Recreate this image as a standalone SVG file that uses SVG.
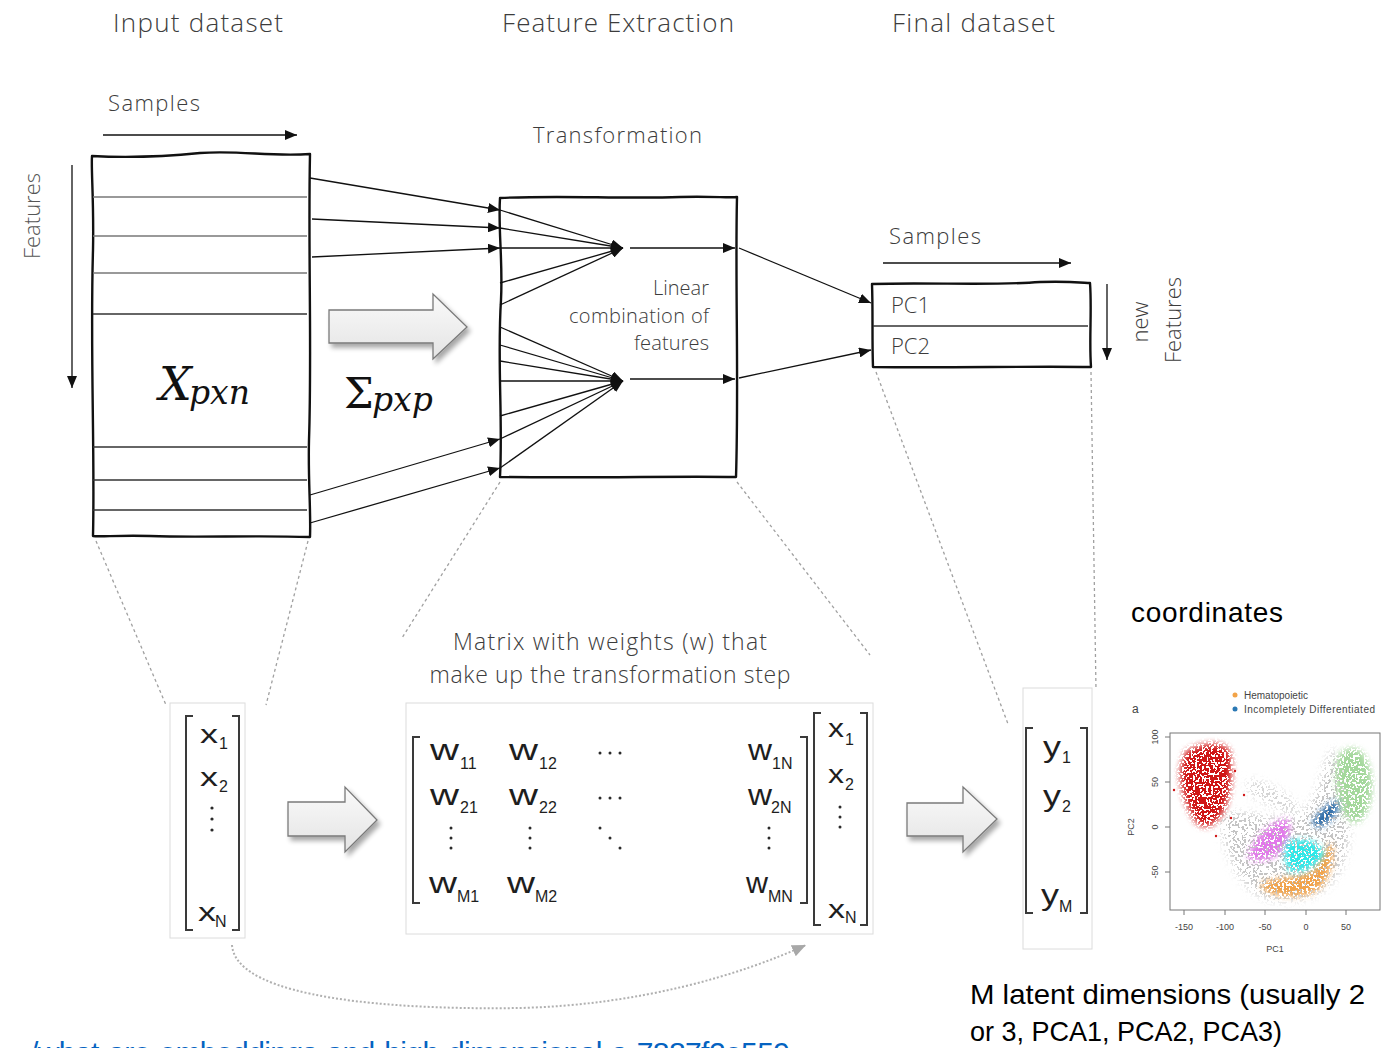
<svg xmlns="http://www.w3.org/2000/svg" width="1390" height="1048" viewBox="0 0 1390 1048">
  <style>
    .hdr { font-family: "Open Sans", "Liberation Sans", sans-serif; font-weight: 300; font-size: 26px; fill: #3c3c3c; }
    .lbl { font-family: "Open Sans", "Liberation Sans", sans-serif; font-weight: 300; font-size: 22px; fill: #3c3c3c; }
    .small { font-family: "Open Sans", "Liberation Sans", sans-serif; font-weight: 300; font-size: 20px; fill: #3c3c3c; }
    .math { font-family: "DejaVu Serif", "Liberation Serif", serif; font-style: italic; fill: #111; }
    .mv { font-family: "Liberation Sans", Arial, sans-serif; fill: #1e1e1e; }
    .sub { font-family: "Liberation Sans", Arial, sans-serif; font-size: 16px; fill: #1e1e1e; }
    .note { font-family: "Liberation Sans", Arial, sans-serif; font-size: 28px; fill: #000; }
    .axis { font-family: "Liberation Sans", Arial, sans-serif; font-size: 9px; fill: #444; }
    .box { fill: #fff; stroke: #111; stroke-width: 2.4; stroke-linejoin: round; }
    .row { stroke: #777; stroke-width: 1.6; }
    .rowd { stroke: #333; stroke-width: 1.6; }
    .conn { stroke: #111; stroke-width: 1.3; fill: none; }
    .dash { stroke: #a0a0a0; stroke-width: 1.3; stroke-dasharray: 3 3; fill: none; }
    .frame { fill: #fff; stroke: #dcdcdc; stroke-width: 1; }
    .brk { fill: none; stroke: #3a3a3a; stroke-width: 2; }
    .block { fill: url(#blockFill); stroke: #7a7a7a; stroke-width: 1.3; stroke-linejoin: miter; }
    .dot { fill: #2a2a2a; }
  </style>
  <defs>
    <marker id="ah" viewBox="0 0 12 10" refX="12" refY="5" markerWidth="12" markerHeight="10" orient="auto" markerUnits="userSpaceOnUse">
      <path d="M0 0 L12 5 L0 10 Z" fill="#111"/>
    </marker>
    <marker id="ahGray" viewBox="0 0 14 12" refX="14" refY="6" markerWidth="14" markerHeight="12" orient="auto" markerUnits="userSpaceOnUse">
      <path d="M0 0 L14 6 L0 12 Z" fill="#a8a8a8"/>
    </marker>
    <linearGradient id="blockFill" x1="0" y1="0" x2="0" y2="1">
      <stop offset="0" stop-color="#fafafa"/>
      <stop offset="1" stop-color="#e4e4e4"/>
    </linearGradient>
    <filter id="shadow" x="-20%" y="-20%" width="150%" height="160%">
      <feGaussianBlur in="SourceAlpha" stdDeviation="2.5"/>
      <feOffset dx="3" dy="4" result="off"/>
      <feComponentTransfer in="off" result="soft"><feFuncA type="linear" slope="0.35"/></feComponentTransfer>
      <feMerge><feMergeNode in="soft"/><feMergeNode in="SourceGraphic"/></feMerge>
    </filter>
    <!-- speckle fill for the scatter clusters, soft at the edges -->
    <filter id="speckDense" x="-25%" y="-25%" width="150%" height="150%">
      <feTurbulence type="fractalNoise" baseFrequency="0.45" numOctaves="1" seed="4" result="n"/>
      <feColorMatrix in="n" type="matrix" values="0 0 0 0 0  0 0 0 0 0  0 0 0 0 0  1.8 0 0 0 -0.32" result="m"/>
      <feComponentTransfer in="m" result="mask"><feFuncA type="discrete" tableValues="0 1"/></feComponentTransfer>
      <feGaussianBlur in="SourceGraphic" stdDeviation="3" result="soft"/>
      <feComposite in="soft" in2="mask" operator="in" result="spk"/>
      <feGaussianBlur in="spk" stdDeviation="0.35"/>
    </filter>
    <filter id="speckSparse" x="-25%" y="-25%" width="150%" height="150%">
      <feTurbulence type="fractalNoise" baseFrequency="0.45" numOctaves="1" seed="9" result="n"/>
      <feColorMatrix in="n" type="matrix" values="0 0 0 0 0  0 0 0 0 0  0 0 0 0 0  1.8 0 0 0 -0.5" result="m"/>
      <feComponentTransfer in="m" result="mask"><feFuncA type="discrete" tableValues="0 1"/></feComponentTransfer>
      <feGaussianBlur in="SourceGraphic" stdDeviation="5" result="soft"/>
      <feComposite in="soft" in2="mask" operator="in" result="spk"/>
      <feGaussianBlur in="spk" stdDeviation="0.35"/>
    </filter>
  </defs>

  <rect width="1390" height="1048" fill="#fff"/>

  <!-- section headings -->
  <g id="headings">
    <text class="hdr" x="113" y="32" textLength="170">Input dataset</text>
    <text class="hdr" x="502" y="32" textLength="232">Feature Extraction</text>
    <text class="hdr" x="892" y="32" textLength="163">Final dataset</text>
  </g>

  <!-- input data matrix -->
  <g id="input-dataset">
    <text class="lbl" x="108" y="111" textLength="92">Samples</text>
    <text class="lbl" transform="translate(40,216) rotate(-90)" text-anchor="middle" style="fill:#555">Features</text>
    <path class="box" d="M92 156 C130 158 160 157 200 153 C240 150 270 157 310 154 C308 250 312 350 309 440 C308 480 311 510 310 537 C250 535 200 538 150 536 C120 535 100 537 93 536 C95 450 90 350 93 250 C94 200 91 170 92 156 Z"/>
    <line class="row" x1="93" y1="197" x2="307" y2="197"/>
    <line class="row" x1="93" y1="236" x2="307" y2="236"/>
    <line class="row" x1="93" y1="273" x2="307" y2="273"/>
    <line class="rowd" x1="93" y1="314" x2="307" y2="314"/>
    <line class="rowd" x1="93" y1="447" x2="307" y2="447"/>
    <line class="rowd" x1="93" y1="480" x2="307" y2="480"/>
    <line class="rowd" x1="93" y1="510" x2="307" y2="510"/>
    <text class="math" x="159" y="400" font-size="46">X</text>
    <text class="math" x="189" y="404" font-size="33">pxn</text>
  </g>

  <!-- covariance arrow -->
  <g id="sigma">
    <polygon class="block" filter="url(#shadow)" points="329,310 433,310 433,294 467,327 433,359 433,343 329,343"/>
    <text class="math" x="344" y="408" font-size="42" style="font-style:normal">Σ</text>
    <text class="math" x="372" y="411" font-size="33">pxp</text>
  </g>

  <!-- transformation block -->
  <g id="transformation">
    <text class="lbl" x="533" y="143" textLength="169">Transformation</text>
    <path class="box" d="M500 198 C560 195 620 199 680 197 C710 196 730 198 737 197 C735 280 739 380 736 477 C680 476 600 478 500 477 C503 420 497 360 501 300 C503 260 498 230 500 198 Z"/>
    <text class="small" x="709" y="295" text-anchor="end" textLength="56">Linear</text>
    <text class="small" x="709" y="323" text-anchor="end" textLength="140">combination of</text>
    <text class="small" x="709" y="350" text-anchor="end" textLength="75">features</text>
  </g>

  <!-- final dataset -->
  <g id="final-dataset">
    <text class="lbl" x="889" y="244" textLength="92">Samples</text>
    <path class="box" d="M872 284 C930 282 990 286 1040 282 C1070 281 1085 283 1090 283 C1092 310 1089 340 1091 367 C1030 366 950 368 873 367 C872 340 873 310 872 284 Z"/>
    <line class="rowd" x1="873" y1="326" x2="1088" y2="326"/>
    <text class="lbl" x="891" y="313">PC1</text>
    <text class="lbl" x="891" y="354">PC2</text>
    <text class="lbl" transform="translate(1148,322) rotate(-90)" text-anchor="middle">new</text>
    <text class="lbl" transform="translate(1181,320) rotate(-90)" text-anchor="middle">Features</text>
  </g>

  <!-- connectors -->
  <g id="connectors">
    <line class="conn" x1="103" y1="135" x2="297" y2="135" marker-end="url(#ah)"/>
    <line class="conn" x1="72" y1="165" x2="72" y2="388" marker-end="url(#ah)"/>
    <line class="conn" x1="883" y1="263" x2="1071" y2="263" marker-end="url(#ah)"/>
    <line class="conn" x1="1107" y1="284" x2="1107" y2="360" marker-end="url(#ah)"/>

    <line class="conn" x1="310" y1="178" x2="500" y2="210" marker-end="url(#ah)"/>
    <line class="conn" x1="312" y1="219" x2="500" y2="228" marker-end="url(#ah)"/>
    <line class="conn" x1="312" y1="257" x2="500" y2="248" marker-end="url(#ah)"/>
    <line class="conn" x1="310" y1="495" x2="500" y2="439" marker-end="url(#ah)"/>
    <line class="conn" x1="310" y1="523" x2="500" y2="468" marker-end="url(#ah)"/>

    <line class="conn" x1="500" y1="210" x2="623" y2="248" marker-end="url(#ah)"/>
    <line class="conn" x1="500" y1="228" x2="623" y2="248" marker-end="url(#ah)"/>
    <line class="conn" x1="500" y1="248" x2="623" y2="248" marker-end="url(#ah)"/>
    <line class="conn" x1="500" y1="283" x2="623" y2="248" marker-end="url(#ah)"/>
    <line class="conn" x1="500" y1="305" x2="623" y2="248" marker-end="url(#ah)"/>

    <line class="conn" x1="500" y1="327" x2="623" y2="381" marker-end="url(#ah)"/>
    <line class="conn" x1="500" y1="345" x2="623" y2="381" marker-end="url(#ah)"/>
    <line class="conn" x1="500" y1="361" x2="623" y2="381" marker-end="url(#ah)"/>
    <line class="conn" x1="500" y1="381" x2="623" y2="381" marker-end="url(#ah)"/>
    <line class="conn" x1="500" y1="416" x2="623" y2="381" marker-end="url(#ah)"/>
    <line class="conn" x1="500" y1="439" x2="623" y2="381" marker-end="url(#ah)"/>
    <line class="conn" x1="500" y1="468" x2="623" y2="381" marker-end="url(#ah)"/>

    <line class="conn" x1="630" y1="248" x2="735" y2="248" marker-end="url(#ah)"/>
    <line class="conn" x1="630" y1="379" x2="735" y2="379" marker-end="url(#ah)"/>
    <line class="conn" x1="739" y1="248" x2="871" y2="303" marker-end="url(#ah)"/>
    <line class="conn" x1="739" y1="378" x2="871" y2="350" marker-end="url(#ah)"/>

    <line class="dash" x1="96" y1="541" x2="166" y2="705"/>
    <line class="dash" x1="308" y1="541" x2="266" y2="705"/>
    <line class="dash" x1="500" y1="482" x2="402" y2="638"/>
    <line class="dash" x1="737" y1="482" x2="870" y2="655"/>
    <line class="dash" x1="876" y1="372" x2="1008" y2="724"/>
    <line class="dash" x1="1091" y1="372" x2="1096" y2="690"/>

    <path d="M232 945 C236 1000 400 1010 520 1008 C640 1005 740 975 806 945" fill="none" stroke="#b0b0b0" stroke-width="2" stroke-dasharray="2 2" marker-end="url(#ahGray)"/>
  </g>

  <!-- input vector -->
  <g id="x-vector">
    <rect class="frame" x="170" y="703" width="75" height="235"/>
    <path class="brk" d="M193 716 H186 V930 H193"/>
    <path class="brk" d="M232 716 H239 V930 H232"/>
    <text class="mv" x="200" y="743" font-size="26" textLength="18" lengthAdjust="spacingAndGlyphs">x</text>
    <text class="sub" x="219" y="749">1</text>
    <text class="mv" x="200" y="786" font-size="26" textLength="18" lengthAdjust="spacingAndGlyphs">x</text>
    <text class="sub" x="219" y="792">2</text>
    <circle class="dot" cx="212" cy="808" r="1.6"/>
    <circle class="dot" cx="212" cy="819" r="1.6"/>
    <circle class="dot" cx="212" cy="830" r="1.6"/>
    <text class="mv" x="198" y="921" font-size="26" textLength="18" lengthAdjust="spacingAndGlyphs">x</text>
    <text class="sub" x="215" y="927">N</text>
  </g>

  <g id="arrow-to-weights">
    <polygon class="block" filter="url(#shadow)" points="288,802 345,802 345,787 377,820 345,852 345,836 288,836"/>
  </g>

  <!-- weight matrix times input vector -->
  <g id="weight-matrix">
    <text class="lbl" x="610" y="650" text-anchor="middle" style="font-size:23px" textLength="314">Matrix with weights (w) that</text>
    <text class="lbl" x="610" y="683" text-anchor="middle" style="font-size:23px" textLength="361">make up the transformation step</text>
    <rect class="frame" x="406" y="703" width="467" height="231"/>
    <path class="brk" d="M420 737 H413 V903 H420"/>
    <path class="brk" d="M800 737 H807 V903 H800"/>
    <path class="brk" d="M821 713 H814 V925 H821"/>
    <path class="brk" d="M860 713 H867 V925 H860"/>

    <text class="mv" x="430" y="760" font-size="29" textLength="29" lengthAdjust="spacingAndGlyphs">w</text>
    <text class="sub" x="460" y="769">11</text>
    <text class="mv" x="509" y="760" font-size="29" textLength="29" lengthAdjust="spacingAndGlyphs">w</text>
    <text class="sub" x="539" y="769">12</text>
    <text class="mv" x="748" y="760" font-size="29" textLength="24" lengthAdjust="spacingAndGlyphs">w</text>
    <text class="sub" x="772" y="769">1N</text>

    <text class="mv" x="430" y="805" font-size="29" textLength="29" lengthAdjust="spacingAndGlyphs">w</text>
    <text class="sub" x="460" y="813">21</text>
    <text class="mv" x="509" y="805" font-size="29" textLength="29" lengthAdjust="spacingAndGlyphs">w</text>
    <text class="sub" x="539" y="813">22</text>
    <text class="mv" x="748" y="805" font-size="29" textLength="24" lengthAdjust="spacingAndGlyphs">w</text>
    <text class="sub" x="771" y="813">2N</text>

    <text class="mv" x="429" y="893" font-size="29" textLength="28" lengthAdjust="spacingAndGlyphs">w</text>
    <text class="sub" x="457" y="902">M1</text>
    <text class="mv" x="507" y="893" font-size="29" textLength="28" lengthAdjust="spacingAndGlyphs">w</text>
    <text class="sub" x="535" y="902">M2</text>
    <text class="mv" x="746" y="893" font-size="29" textLength="22" lengthAdjust="spacingAndGlyphs">w</text>
    <text class="sub" x="768" y="902">MN</text>

    <g class="dot">
      <circle cx="600" cy="753" r="1.5"/><circle cx="610" cy="753" r="1.5"/><circle cx="620" cy="753" r="1.5"/>
      <circle cx="600" cy="798" r="1.5"/><circle cx="610" cy="798" r="1.5"/><circle cx="620" cy="798" r="1.5"/>
      <circle cx="451" cy="828" r="1.5"/><circle cx="451" cy="838" r="1.5"/><circle cx="451" cy="848" r="1.5"/>
      <circle cx="530" cy="828" r="1.5"/><circle cx="530" cy="838" r="1.5"/><circle cx="530" cy="848" r="1.5"/>
      <circle cx="600" cy="828" r="1.5"/><circle cx="610" cy="838" r="1.5"/><circle cx="620" cy="848" r="1.5"/>
      <circle cx="769" cy="828" r="1.5"/><circle cx="769" cy="838" r="1.5"/><circle cx="769" cy="848" r="1.5"/>
      <circle cx="840" cy="807" r="1.5"/><circle cx="840" cy="817" r="1.5"/><circle cx="840" cy="827" r="1.5"/>
    </g>

    <text class="mv" x="828" y="737" font-size="26" textLength="16" lengthAdjust="spacingAndGlyphs">x</text>
    <text class="sub" x="845" y="745">1</text>
    <text class="mv" x="828" y="783" font-size="26" textLength="16" lengthAdjust="spacingAndGlyphs">x</text>
    <text class="sub" x="845" y="790">2</text>
    <text class="mv" x="828" y="918" font-size="26" textLength="17" lengthAdjust="spacingAndGlyphs">x</text>
    <text class="sub" x="845" y="923">N</text>
  </g>

  <g id="arrow-to-output">
    <polygon class="block" filter="url(#shadow)" points="907,803 963,803 963,787 997,819 963,852 963,836 907,836"/>
  </g>

  <!-- output vector -->
  <g id="y-vector">
    <rect class="frame" x="1023" y="688" width="69" height="261"/>
    <path class="brk" d="M1033 728 H1026 V913 H1033"/>
    <path class="brk" d="M1080 728 H1087 V913 H1080"/>
    <text class="mv" x="1043" y="757" font-size="29" textLength="18" lengthAdjust="spacingAndGlyphs">y</text>
    <text class="sub" x="1062" y="763">1</text>
    <text class="mv" x="1043" y="806" font-size="29" textLength="18" lengthAdjust="spacingAndGlyphs">y</text>
    <text class="sub" x="1062" y="812">2</text>
    <text class="mv" x="1041" y="905" font-size="29" textLength="18" lengthAdjust="spacingAndGlyphs">y</text>
    <text class="sub" x="1059" y="912">M</text>
  </g>

  <!-- PCA scatter plot -->
  <g id="scatter-plot">
    <text class="axis" x="1132" y="713" style="font-size:12px">a</text>
    <circle cx="1235" cy="695" r="2.5" fill="#f2a348"/>
    <text class="axis" x="1244" y="699" style="font-size:10px">Hematopoietic</text>
    <circle cx="1235" cy="709" r="2.5" fill="#2a78b4"/>
    <text class="axis" x="1244" y="713" style="font-size:10px" textLength="131">Incompletely Differentiated</text>

    <rect x="1170" y="733" width="210" height="177" fill="#fff" stroke="#777" stroke-width="1"/>
    <g stroke="#777" stroke-width="1">
      <line x1="1165" y1="737" x2="1170" y2="737"/>
      <line x1="1165" y1="782" x2="1170" y2="782"/>
      <line x1="1165" y1="827" x2="1170" y2="827"/>
      <line x1="1165" y1="872" x2="1170" y2="872"/>
      <line x1="1184" y1="910" x2="1184" y2="915"/>
      <line x1="1225" y1="910" x2="1225" y2="915"/>
      <line x1="1265" y1="910" x2="1265" y2="915"/>
      <line x1="1306" y1="910" x2="1306" y2="915"/>
      <line x1="1346" y1="910" x2="1346" y2="915"/>
    </g>
    <g class="axis" text-anchor="middle">
      <text transform="translate(1158,737) rotate(-90)">100</text>
      <text transform="translate(1158,782) rotate(-90)">50</text>
      <text transform="translate(1158,827) rotate(-90)">0</text>
      <text transform="translate(1158,872) rotate(-90)">-50</text>
      <text transform="translate(1134,827) rotate(-90)">PC2</text>
      <text x="1184" y="930">-150</text>
      <text x="1225" y="930">-100</text>
      <text x="1265" y="930">-50</text>
      <text x="1306" y="930">0</text>
      <text x="1346" y="930">50</text>
      <text x="1275" y="952">PC1</text>
    </g>

    <path filter="url(#speckSparse)" fill="#c4c4c4" d="M1220 814 C1224 850 1240 900 1280 900 C1320 902 1344 880 1348 840 C1352 800 1344 770 1334 748 C1322 762 1322 800 1300 815 C1280 826 1250 808 1220 814 Z"/>
    <path filter="url(#speckSparse)" fill="#d0d0d0" d="M1248 780 C1265 780 1290 795 1300 808 L1292 816 C1275 805 1258 800 1248 792 Z"/>
    <path filter="url(#speckDense)" fill="#d01818" d="M1185 752 C1200 742 1225 740 1230 752 C1234 775 1230 800 1223 813 C1213 827 1205 831 1196 822 C1186 808 1180 790 1180 770 Z"/>
    <path filter="url(#speckDense)" fill="#a4d89c" d="M1341 752 C1355 743 1366 750 1370 770 C1375 790 1370 813 1359 822 C1348 825 1340 813 1338 795 C1334 776 1334 760 1341 752 Z"/>
    <path filter="url(#speckDense)" fill="#e278ea" d="M1248 858 C1253 836 1270 823 1288 818 C1292 828 1288 845 1280 853 C1270 860 1257 864 1248 858 Z"/>
    <path filter="url(#speckDense)" fill="#f2a348" d="M1260 884 C1276 876 1300 880 1314 870 C1323 856 1328 843 1332 843 C1335 862 1328 888 1309 894 C1290 898 1267 897 1260 884 Z"/>
    <path filter="url(#speckDense)" fill="#2ee8e8" d="M1287 842 C1300 837 1320 840 1324 853 C1320 866 1300 875 1289 871 C1284 860 1284 849 1287 842 Z"/>
    <path filter="url(#speckDense)" fill="#2a6aa8" d="M1312 822 C1319 811 1330 802 1338 800 C1341 809 1334 823 1317 828 Z"/>
    <g fill="#d01818">
      <circle cx="1228" cy="760" r="1.2"/><circle cx="1235" cy="771" r="1.2"/><circle cx="1244" cy="795" r="1.2"/>
      <circle cx="1231" cy="818" r="1.2"/><circle cx="1216" cy="836" r="1.2"/><circle cx="1174" cy="790" r="1.2"/>
    </g>
  </g>

  <!-- annotations -->
  <g id="annotations">
    <text class="note" x="1131" y="622" textLength="152">coordinates</text>
    <text class="note" x="970" y="1004" textLength="395" lengthAdjust="spacingAndGlyphs">M latent dimensions (usually 2</text>
    <text class="note" x="970" y="1041" textLength="312" lengthAdjust="spacingAndGlyphs">or 3, PCA1, PCA2, PCA3)</text>
    <text x="30" y="1063" font-family="Liberation Sans, Arial, sans-serif" font-size="30" fill="#0563c1" textLength="760">/what-are-embeddings-and-high-dimensional-a-7887f2e559</text>
  </g>
</svg>
